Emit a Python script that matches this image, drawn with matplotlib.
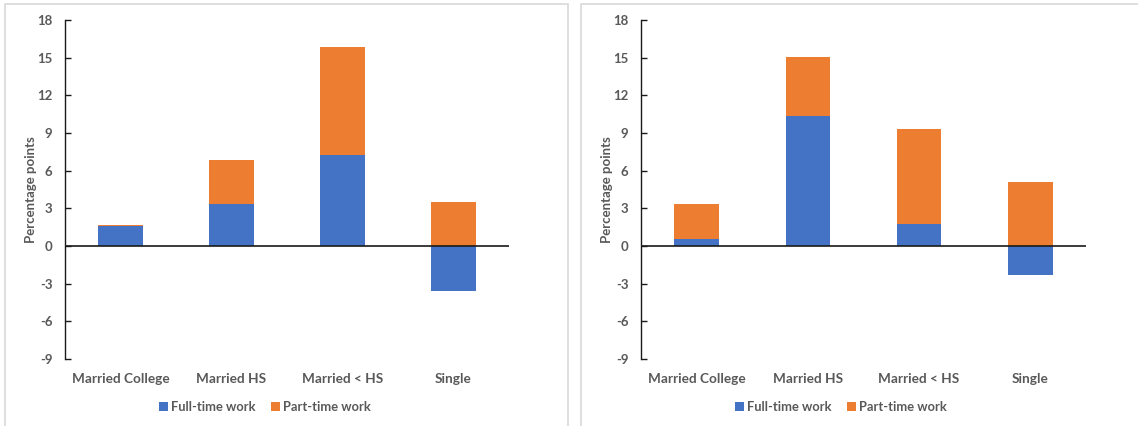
import matplotlib
matplotlib.use("Agg")
import matplotlib.pyplot as plt
from matplotlib.patches import Rectangle, Patch

plt.rcParams['font.family'] = ['Lato', 'DejaVu Sans']
plt.rcParams['font.weight'] = 'bold'

categories = ["Married College", "Married HS", "Married < HS", "Single"]
series_names = ["Full-time work", "Part-time work"]

left_full = [1.59, 3.37, 7.25, -3.56]
left_part = [0.07, 3.48, 8.60, 3.50]

right_full = [0.56, 10.35, 1.72, -2.33]
right_part = [2.78, 4.72, 7.57, 5.07]

yticks = [-9, -6, -3, 0, 3, 6, 9, 12, 15, 18]

BLUE = "#4472C4"
ORANGE = "#ED7D31"
TEXT = "#595959"
WEIGHT = "bold"

W, H = 1138, 426
fig = plt.figure(figsize=(W / 100, H / 100), dpi=100)

# Chart-area frames around each panel
for x0, x1 in [(5, 568), (581, 1145)]:
    fig.patches.append(Rectangle((x0 / W, -0.1), (x1 - x0) / W, (H - 4) / H + 0.1,
                                 transform=fig.transFigure, fill=False,
                                 edgecolor="#D9D9D9", linewidth=1.2))


def draw_panel(ax, full, part):
    x = list(range(len(categories)))
    # positive and negative parts stack separately
    ax.bar(x, full, width=0.4, color=BLUE, linewidth=0, zorder=2)
    bottoms = [max(f, 0) for f in full]
    ax.bar(x, part, width=0.4, bottom=bottoms, color=ORANGE, linewidth=0, zorder=2)
    ax.axhline(0, color="#1a1a1a", linewidth=1.2, zorder=3)
    ax.set_xlim(-0.5, 3.5)
    ax.set_ylim(-9, 18)
    ax.set_yticks(yticks)
    ax.set_yticklabels([str(t) for t in yticks], fontweight=WEIGHT, fontsize=9.5, color=TEXT)
    ax.set_xticks(x)
    ax.set_xticklabels(categories, fontweight=WEIGHT, fontsize=9.8, color=TEXT)
    for s in ["top", "right", "bottom"]:
        ax.spines[s].set_visible(False)
    ax.spines["left"].set_color("#1a1a1a")
    ax.spines["left"].set_linewidth(1.0)
    ax.tick_params(axis="y", direction="in", length=4, width=1.0, color="#1a1a1a", pad=9)
    ax.tick_params(axis="x", length=0, pad=10)
    ax.set_ylabel("Percentage points", fontsize=9.5, color=TEXT, fontweight=WEIGHT, labelpad=0)
    ax.set_facecolor("white")


axL = fig.add_axes([65 / W, (H - 359) / H, 444 / W, 339 / H])
draw_panel(axL, left_full, left_part)
axR = fig.add_axes([641 / W, (H - 359) / H, 445 / W, 339 / H])
draw_panel(axR, right_full, right_part)

handles = [Patch(facecolor=BLUE, edgecolor="none"), Patch(facecolor=ORANGE, edgecolor="none")]
for cx in [265 / W, 841 / W]:
    fig.legend(handles, series_names, loc="center", bbox_to_anchor=(cx, (H - 407) / H),
               ncol=2, frameon=False, labelcolor=TEXT,
               prop={"family": ["Lato", "DejaVu Sans"], "weight": WEIGHT, "size": 9.3},
               handlelength=0.7, handleheight=0.7, handletextpad=0.25, columnspacing=1.2)

fig.savefig("out.png", dpi=100, facecolor="white")
